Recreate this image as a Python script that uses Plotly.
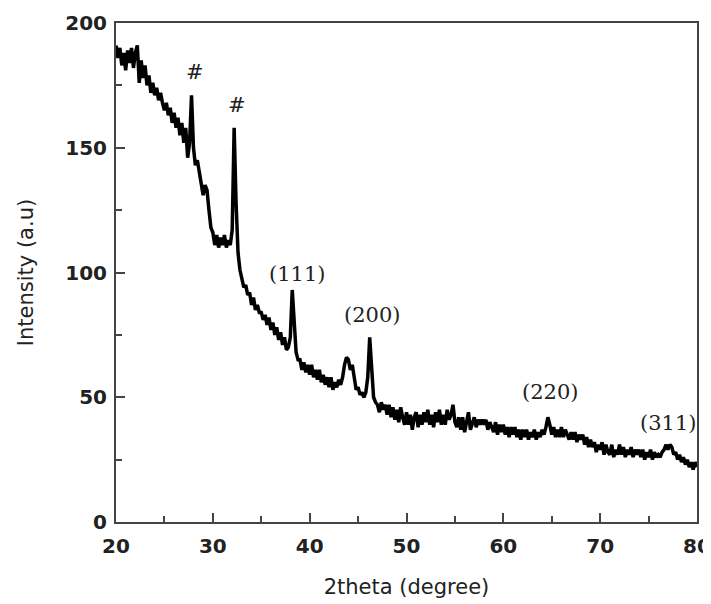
import numpy as np
import plotly.graph_objects as go

# 2theta sampled every 0.2 degree from 20 to 80
two_theta = np.round(np.linspace(20, 80, 301), 1)

intensity = [
    191, 186, 190, 183, 188,   # 20
    181, 189, 184, 190, 182,   # 21
    188, 191, 176, 185, 178,   # 22
    183, 175, 179, 172, 176,   # 23
    171, 174, 169, 172, 168,   # 24
    165, 168, 163, 166, 160,   # 25
    164, 158, 162, 155, 160,   # 26
    152, 158, 146, 152, 171,   # 27
    150, 143, 145, 140, 137,   # 28
    131, 135, 133, 125, 118,   # 29
    116, 111, 115, 110, 114,   # 30
    111, 115, 110, 113, 111,   # 31
    117, 158, 128, 108, 101,   # 32
    98, 94, 95, 91, 92,        # 33
    87, 90, 85, 87, 84,        # 34
    84, 81, 83, 79, 82,        # 35
    77, 80, 75, 78, 73,        # 36
    76, 71, 74, 69, 70,        # 37
    74, 93, 77, 68, 65,        # 38
    65, 61, 64, 60, 63,        # 39
    59, 63, 58, 61, 57,        # 40
    61, 56, 59, 55, 58,        # 41
    54, 58, 53, 56, 54,        # 42
    57, 55, 58, 63, 66,        # 43
    65, 61, 63, 58, 53,        # 44
    54, 51, 52, 50, 52,        # 45
    58, 74, 60, 50, 48,        # 46
    47, 44, 48, 45, 47,        # 47
    43, 47, 42, 46, 41,        # 48
    45, 40, 46, 42, 39,        # 49
    44, 39, 43, 37, 42,        # 50
    44, 38, 43, 39, 44,        # 51
    40, 45, 39, 43, 38,        # 52
    44, 40, 45, 39, 43,        # 53
    39, 45, 41, 43, 47,        # 54
    40, 38, 42, 37, 42,        # 55
    36, 41, 44, 37, 40,        # 56
    42, 38, 41, 39, 41,        # 57
    39, 41, 37, 40, 38,        # 58
    36, 40, 35, 39, 36,        # 59
    39, 35, 38, 34, 38,        # 60
    35, 38, 34, 37, 33,        # 61
    37, 34, 37, 33, 36,        # 62
    34, 37, 33, 36, 34,        # 63
    37, 35, 38, 42, 39,        # 64
    35, 38, 34, 37, 34,        # 65
    38, 34, 37, 35, 33,        # 66
    36, 33, 36, 32, 35,        # 67
    33, 35, 31, 34, 30,        # 68
    33, 30, 32, 28, 31,        # 69
    29, 32, 27, 31, 28,        # 70
    27, 31, 26, 29, 27,        # 71
    31, 27, 30, 26, 29,        # 72
    27, 30, 26, 29, 27,        # 73
    29, 26, 29, 25, 28,        # 74
    26, 29, 25, 28, 26,        # 75
    27, 26, 28, 29, 31,        # 76
    29, 31, 30, 27, 28,        # 77
    25, 27, 24, 26, 23,        # 78
    25, 22, 24, 21, 24,        # 79
    22,                        # 80
]

peak_labels = ["#", "#", "(111)", "(200)", "(220)", "(311)"]
peak_x = [28.2, 32.5, 38.7, 46.4, 64.8, 77.0]
peak_y = [180.5, 167, 99.5, 83, 52, 39.5]

fig = go.Figure()
fig.add_trace(go.Scatter(
    x=two_theta, y=intensity, mode="lines",
    line=dict(color="black", width=3.5),
    showlegend=False,
))

for t, px, py in zip(peak_labels, peak_x, peak_y):
    fig.add_annotation(
        x=px, y=py, text=t, showarrow=False,
        font=dict(family="DejaVu Serif", size=21, color="#222"),
        xanchor="center", yanchor="middle",
    )

axis_common = dict(
    showline=True, linecolor="#444", linewidth=2, mirror=True,
    ticks="inside", ticklen=9, tickwidth=2, tickcolor="#444",
    showgrid=False, zeroline=False,
    tickfont=dict(family="DejaVu Sans", size=20, color="#222", weight="bold"),
)

fig.update_xaxes(
    range=[20, 80], dtick=10, tick0=20,
    minor=dict(dtick=5, ticks="inside", ticklen=6, tickwidth=2, tickcolor="#444"),
    ticklabelstandoff=5,
    title=dict(text="2theta (degree)", font=dict(family="DejaVu Sans", size=21, color="#222"), standoff=22),
    **axis_common,
)
fig.update_yaxes(
    range=[0, 200], dtick=50, tick0=0,
    minor=dict(dtick=25, ticks="inside", ticklen=6, tickwidth=2, tickcolor="#444"),
    ticklabelstandoff=3,
    title=dict(text="Intensity (a.u)", font=dict(family="DejaVu Sans", size=21, color="#222"), standoff=26),
    **axis_common,
)

# the page body adds an 8 px offset; sizes compensate for it
fig.update_layout(
    width=703, height=596,
    margin=dict(l=108, r=14, t=15, b=82, autoexpand=False),
    paper_bgcolor="white", plot_bgcolor="white",
)

fig.write_html("out.html")
